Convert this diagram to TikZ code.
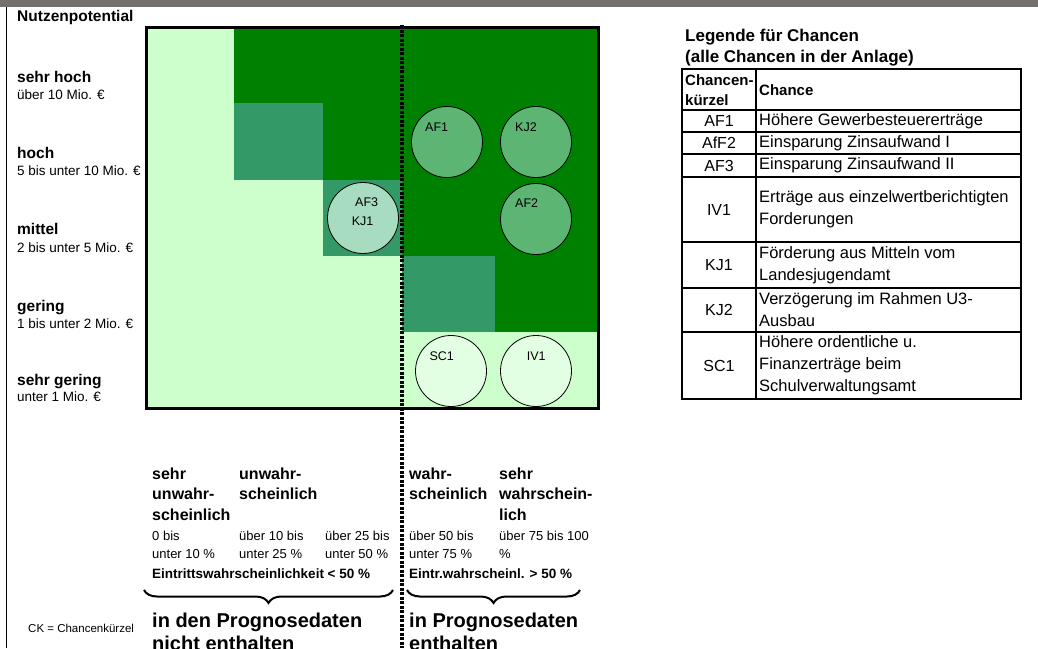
\documentclass[tikz,border=0pt]{standalone}
\usepackage{fontspec}
\setmainfont{Liberation Sans}
\usetikzlibrary{decorations.pathreplacing}

\definecolor{barGray}{RGB}{118,112,108}
\definecolor{cellLight}{RGB}{204,255,204}
\definecolor{cellDark}{RGB}{0,128,0}
\definecolor{cellMid}{RGB}{51,153,102}
\definecolor{circMid}{RGB}{93,181,116}
\definecolor{circPale}{RGB}{168,220,192}
\definecolor{circLight}{RGB}{227,255,227}

\begin{document}
\begin{tikzpicture}[x=1pt,y=-1pt,inner sep=0pt,
    lvlhead/.style={anchor=base west,font=\fontsize{15.5}{18}\selectfont\bfseries},
    lvlsub/.style={anchor=base west,font=\fontsize{13.5}{16}\selectfont},
    chancebox/.style={circle,draw,line width=0.8pt,minimum size=71pt},
    cklabel/.style={anchor=base west,font=\fontsize{12.5}{15}\selectfont},
    codecell/.style={font=\fontsize{16}{22}\selectfont},
    textcell/.style={anchor=west,align=left,font=\fontsize{16.5}{22}\selectfont},
    tablehead/.style={anchor=base west,align=left,font=\fontsize{15}{20}\selectfont\bfseries},
    probhead/.style={anchor=north west,align=left,font=\fontsize{16}{20.5}\selectfont\bfseries},
    probrange/.style={anchor=north west,align=left,font=\fontsize{13}{18}\selectfont},
    probtotal/.style={anchor=base west,font=\fontsize{13.5}{16}\selectfont\bfseries},
    groupnote/.style={anchor=north west,align=left,font=\fontsize{20}{23}\selectfont\bfseries},
    curlybrace/.style={decorate,decoration={brace,mirror,amplitude=13pt},line width=2pt}]
  \useasboundingbox (0,0) rectangle (1038,648);

  % frame of the sheet
  \fill[barGray] (0,0) rectangle (1038,7);
  \draw[line width=1pt] (6,7) -- (6,648);

  % matrix cells
  \fill[cellLight] (146,27) rectangle (598,408);
  \fill[cellDark] (234,27) rectangle (598,103);
  \fill[cellMid] (234,103) rectangle (323,180);
  \fill[cellDark] (323,103) rectangle (598,180);
  \fill[cellMid] (323,180) rectangle (402,256);
  \fill[cellDark] (402,180) rectangle (598,256);
  \fill[cellMid] (402,256) rectangle (495,332);
  \fill[cellDark] (495,256) rectangle (598,332);
  \draw[line width=3pt] (146,27) rectangle (598,408);

  % chances
  \node[chancebox,fill=circMid]   (af1) at (447,142) {};
  \node[chancebox,fill=circMid]   (kj2) at (536,142) {};
  \node[chancebox,fill=circMid]   (af2) at (536,219) {};
  \node[chancebox,fill=circPale]  (af3) at (363,218) {};
  \node[chancebox,fill=circLight] (sc1) at (451,371) {};
  \node[chancebox,fill=circLight] (iv1) at (536,371) {};
  \node[cklabel] (af1t) at (425,131) {AF1};
  \node[cklabel] (kj2t) at (515,131) {KJ2};
  \node[cklabel] (af2t) at (515,207.5) {AF2};
  \node[cklabel] (af3t) at (355,206.7) {AF3};
  \node[cklabel] (kj1t) at (351.7,225) {KJ1};
  \node[cklabel] (sc1t) at (429.3,360.7) {SC1};
  \node[cklabel] (iv1t) at (526.7,360.7) {IV1};

  % dividing line
  \draw[line width=3.5pt,dash pattern=on 3pt off 1.5pt] (402,25) -- (402,648);

  % benefit levels
  \node[lvlhead] (nutzen) at (17,21.5) {Nutzenpotential};
  \node[lvlhead] (l5) at (17,82) {sehr hoch};
  \node[lvlsub] (l5s) at (17,99.3) {über 10 Mio. €};
  \node[lvlhead] (l4) at (17,158.3) {hoch};
  \node[lvlsub] (l4s) at (17,175.7) {5 bis unter 10 Mio. €};
  \node[lvlhead] (l3) at (17,234.3) {mittel};
  \node[lvlsub] (l3s) at (17,252.7) {2 bis unter 5 Mio. €};
  \node[lvlhead] (l2) at (17,311) {gering};
  \node[lvlsub] (l2s) at (17,328.3) {1 bis unter 2 Mio. €};
  \node[lvlhead] (l1) at (17,385.7) {sehr gering};
  \node[lvlsub] (l1s) at (17,401.7) {unter 1 Mio. €};

  % probabilities
  \node[probhead] (p1) at (152,467.3) {sehr\\unwahr-\\scheinlich};
  \node[probhead] (p2) at (239,467.3) {unwahr-\\scheinlich};
  \node[probhead] (p4) at (409,467.3) {wahr-\\scheinlich};
  \node[probhead] (p5) at (499,467.3) {sehr\\wahrschein-\\lich};
  \node[probrange] (r1) at (152,530.5) {0 bis\\unter 10 \%};
  \node[probrange] (r2) at (239,530.5) {über 10 bis\\unter 25 \%};
  \node[probrange] (r3) at (325,530.5) {über 25 bis\\unter 50 \%};
  \node[probrange] (r4) at (409,530.5) {über 50 bis\\unter 75 \%};
  \node[probrange] (r5) at (499,530.5) {über 75 bis 100\\\%};
  \node[probtotal] (lo) at (152,578) {Eintrittswahrscheinlichkeit < 50 \%};
  \node[probtotal] (hi) at (409,578) {Eintr.wahrscheinl. > 50 \%};
  \draw[curlybrace] (144,590) -- (393,590);
  \draw[curlybrace] (407,590) -- (580,590);
  \node[groupnote] (out) at (152,612.4) {in den Prognosedaten\\nicht enthalten};
  \node[groupnote] (in) at (409,612.4) {in Prognosedaten\\enthalten};
  \node[anchor=base west,font=\fontsize{11.5}{14}\selectfont] (ck) at (28,632.7) {CK = Chancenkürzel};

  % legend
  \node[anchor=base west,font=\fontsize{17}{21}\selectfont\bfseries] (leg1) at (685,41) {Legende für Chancen};
  \node[anchor=base west,font=\fontsize{17}{21}\selectfont\bfseries] (leg2) at (685,62.5) {(alle Chancen in der Anlage)};
  \draw[line width=1.5pt] (682,69) rectangle (1021,399);
  \draw[line width=1.5pt] (756,69) -- (756,399);
  \draw[line width=1.5pt] (682,110) -- (1021,110) (682,132) -- (1021,132)
    (682,154) -- (1021,154) (682,177) -- (1021,177) (682,242) -- (1021,242)
    (682,288) -- (1021,288) (682,332) -- (1021,332);
  \node[tablehead] (hcode) at (685,105) {Chancen-\\kürzel};
  \node[tablehead] (hname) at (759,95) {Chance};
  \node[codecell] (cAF1) at (719,121) {AF1};
  \node[codecell] (cAfF2) at (719,143) {AfF2};
  \node[codecell] (cAF3) at (719,165.5) {AF3};
  \node[codecell] (cIV1) at (719,209.5) {IV1};
  \node[codecell] (cKJ1) at (719,265) {KJ1};
  \node[codecell] (cKJ2) at (719,310) {KJ2};
  \node[codecell] (cSC1) at (719,365.5) {SC1};
  \node[textcell] (tAF1) at (759,121) {Höhere Gewerbesteuererträge};
  \node[textcell] (tAfF2) at (759,143) {Einsparung Zinsaufwand I};
  \node[textcell] (tAF3) at (759,165.5) {Einsparung Zinsaufwand II};
  \node[textcell] (tIV1) at (759,209.5) {Erträge aus einzelwertberichtigten\\Forderungen};
  \node[textcell] (tKJ1) at (759,265) {Förderung aus Mitteln vom\\Landesjugendamt};
  \node[textcell] (tKJ2) at (759,310) {Verzögerung im Rahmen U3-\\Ausbau};
  \node[textcell] (tSC1) at (759,365.5) {Höhere ordentliche u.\\Finanzerträge beim\\Schulverwaltungsamt};
\end{tikzpicture}
\end{document}
